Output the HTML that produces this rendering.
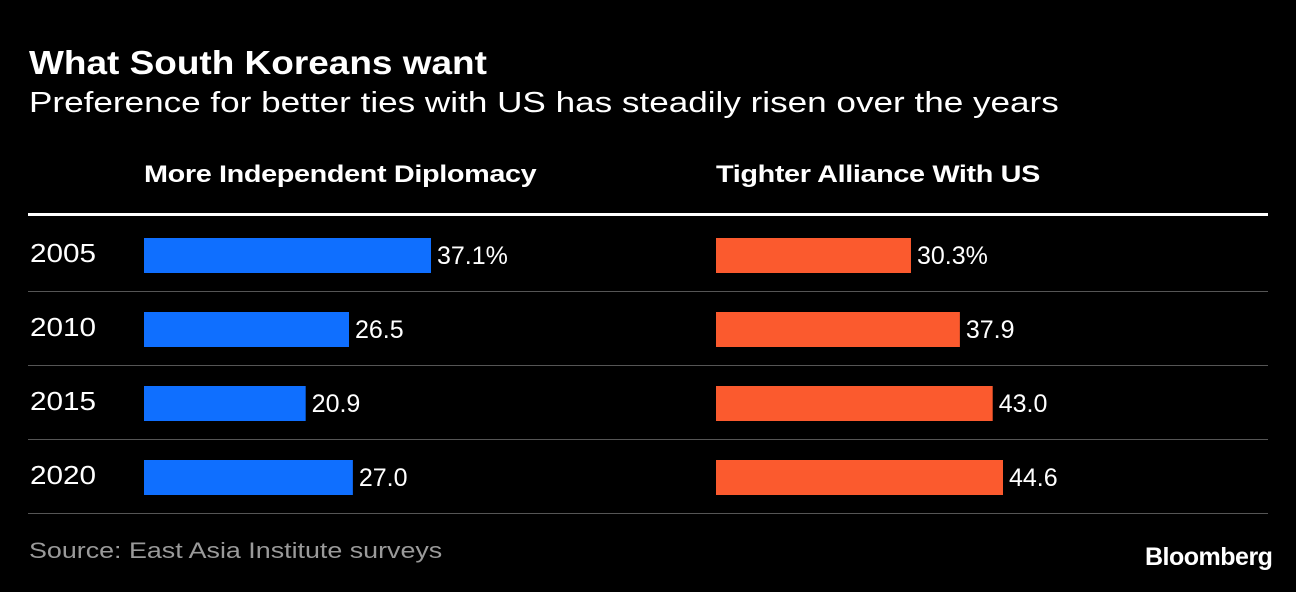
<!DOCTYPE html>
<html><head><meta charset="utf-8"><style>
body{margin:0;background:#000;width:1296px;height:592px;overflow:hidden;font-family:"Liberation Sans",sans-serif;color:#fff;position:relative}
.t{position:absolute;white-space:nowrap;transform-origin:left top}
</style></head><body>
<div class="t" style="left:29px;top:44px;font-size:33px;font-weight:bold;transform:scaleX(1.12)">What South Koreans want</div>
<div class="t" style="left:29px;top:87px;font-size:29px;transform:scaleX(1.21)">Preference for better ties with US has steadily risen over the years</div>
<div class="t" style="left:144px;top:161px;font-size:24px;font-weight:bold;letter-spacing:-0.3px;transform:scaleX(1.2)">More Independent Diplomacy</div>
<div class="t" style="left:716px;top:161px;font-size:24px;font-weight:bold;letter-spacing:-0.3px;transform:scaleX(1.2)">Tighter Alliance With US</div>
<svg id="c" width="1296" height="592" style="position:absolute;left:0;top:0"></svg>
<div class="t" style="left:29px;top:538px;font-size:22px;color:#9a9a9a;transform:scaleX(1.22)">Source: East Asia Institute surveys</div>
<div class="t" style="left:1145px;top:543px;font-size:25px;font-weight:bold;letter-spacing:-0.5px">Bloomberg</div>
<script>
const years=["2005","2010","2015","2020"];
const independent=[37.1,26.5,20.9,27.0];
const alliance=[30.3,37.9,43.0,44.6];
const labelsInd=["37.1%","26.5","20.9","27.0"];
const labelsAll=["30.3%","37.9","43.0","44.6"];
const svg=document.getElementById('c');const NS="http://www.w3.org/2000/svg";
function mk(t,a){const e=document.createElementNS(NS,t);for(const k in a)e.setAttribute(k,a[k]);svg.appendChild(e);return e;}
const topRule=mk('rect',{x:28,y:213,width:1240,height:3,fill:'#fff'});


const W=287;
const xInd=v=>v/Math.max(...independent)*W;
const xAll=v=>v/Math.max(...alliance)*W;
years.forEach((y,i)=>{
 const rowTop=217+i*74;
 const yl=mk('text',{x:30,y:rowTop+45,fill:'#fff','font-size':26,textLength:66,lengthAdjust:'spacingAndGlyphs'});yl.textContent=y;
 
 
 const b1=mk('rect',{x:144,y:rowTop+21,width:xInd(independent[i]),height:35,fill:'#0f6fff'});
 
 
 const l1=mk('text',{x:144+xInd(independent[i])+6,y:rowTop+47,fill:'#fff','font-size':25});l1.textContent=labelsInd[i];
 
 
 const b2=mk('rect',{x:716,y:rowTop+21,width:xAll(alliance[i]),height:35,fill:'#fb5a2e'});
 
 
 const l2=mk('text',{x:716+xAll(alliance[i])+6,y:rowTop+47,fill:'#fff','font-size':25});l2.textContent=labelsAll[i];
 
 
 const sep=mk('rect',{x:28,y:rowTop+74,width:1240,height:1,fill:'#555'});
 
 
});
</script>
</body></html>
